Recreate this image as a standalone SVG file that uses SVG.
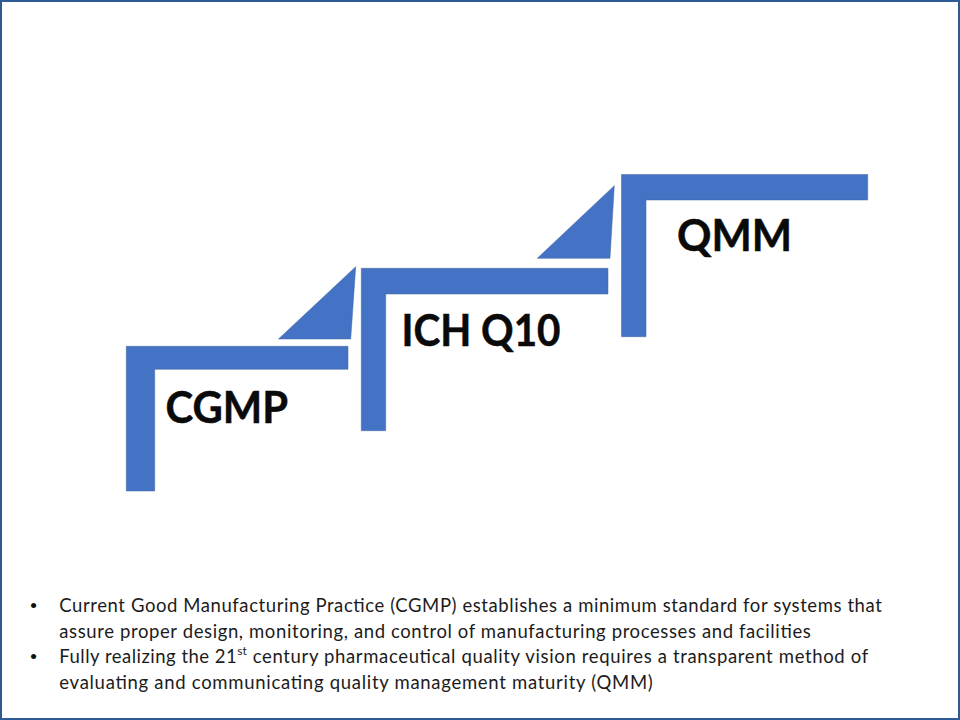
<svg xmlns="http://www.w3.org/2000/svg" width="960" height="720" viewBox="0 0 960 720">
<style>
.shape{fill:#4472c4;stroke:#3f679f;stroke-width:.5}
.head{font-family:"Lato","Open Sans","Liberation Sans",sans-serif;font-weight:700;font-size:44px;fill:#0a0a0a;stroke:#0a0a0a;stroke-width:.5}
.body{font-family:"Lato","Open Sans","Liberation Sans",sans-serif;font-size:18.5px;fill:#1c1c1c}
.bullet{font-size:14px;fill:#111}
.sup{font-size:11.5px}
</style>
<rect x="1" y="1" width="958" height="718" fill="#fff" stroke="#2f5a94" stroke-width="2"/>
<g id="step-cgmp">
<path class="shape" d="M126.300 346.300H348V369.300H154.700V491H126.300Z"/>
<text class="head" x="165.500" y="423" textLength="122.500" lengthAdjust="spacingAndGlyphs">CGMP</text>
</g>
<g id="riser-1"><path class="shape" d="M278.500 339L355.700 266.700L350.700 339Z"/></g>
<g id="step-ich-q10">
<path class="shape" d="M361.300 268.300H608V294H385.700V430.700H361.300Z"/>
<text class="head" x="401.500" y="345.500" textLength="159" lengthAdjust="spacingAndGlyphs">ICH Q10</text>
</g>
<g id="riser-2"><path class="shape" d="M537.300 258.300L614.300 185.700L610 258.300Z"/></g>
<g id="step-qmm">
<path class="shape" d="M621.500 174.500H867.700V200H646V336.700H621.500Z"/>
<text class="head" x="677" y="251" textLength="115" lengthAdjust="spacingAndGlyphs">QMM</text>
</g>
<g id="notes">
<text class="body bullet" x="29.500" y="609.500">•</text>
<text class="body" x="59.300" y="611.500" textLength="822.500" lengthAdjust="spacing">Current Good Manufacturing Practice (CGMP) establishes a minimum standard for systems that</text>
<text class="body" x="59.300" y="637.500" textLength="751.500" lengthAdjust="spacing">assure proper design, monitoring, and control of manufacturing processes and facilities</text>
<text class="body bullet" x="29.500" y="660.500">•</text>
<text class="body" x="59.300" y="662.500" textLength="177.500" lengthAdjust="spacing">Fully realizing the 21</text>
<text class="body sup" x="237.300" y="655" textLength="9.500" lengthAdjust="spacingAndGlyphs">st</text>
<text class="body" x="252.700" y="662.500" textLength="615.500" lengthAdjust="spacing">century pharmaceutical quality vision requires a transparent method of</text>
<text class="body" x="59.300" y="688.500" textLength="593.500" lengthAdjust="spacing">evaluating and communicating quality management maturity (QMM)</text>
</g>
</svg>
